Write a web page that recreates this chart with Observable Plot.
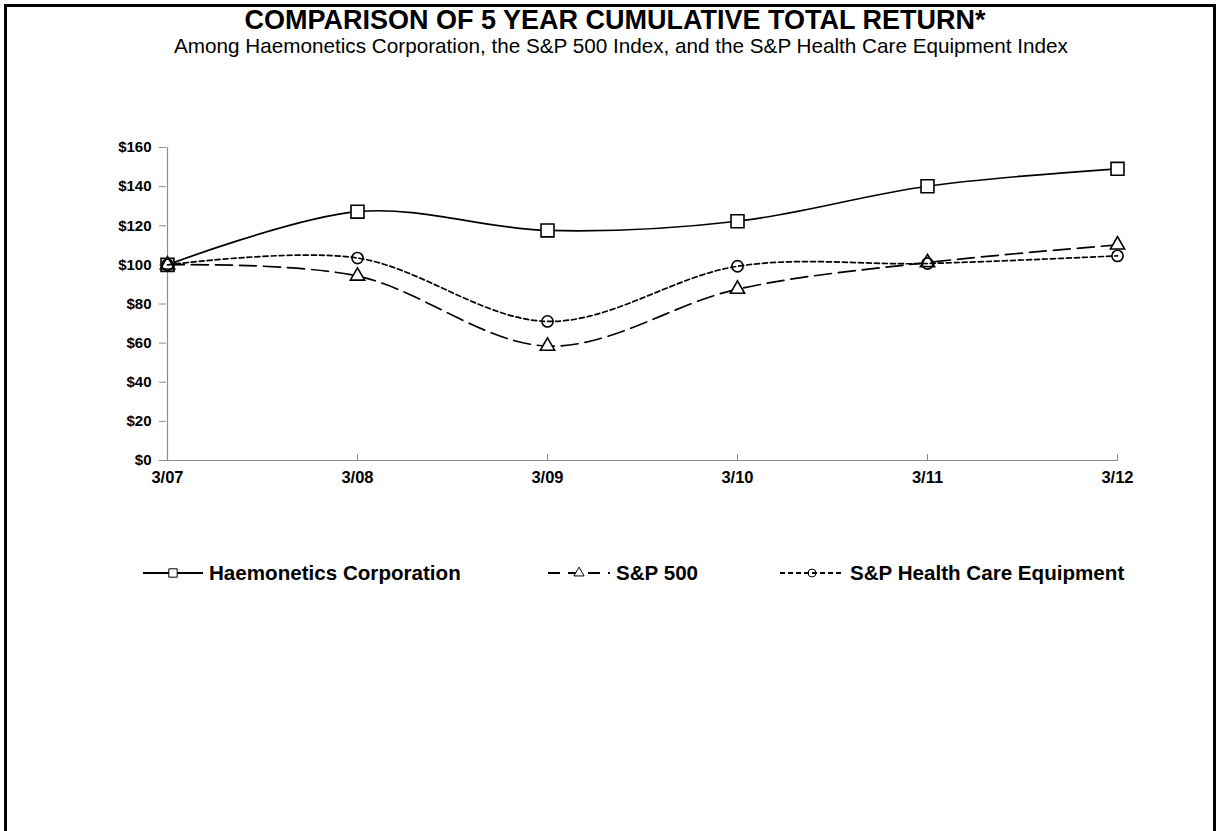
<!DOCTYPE html>
<html>
<head>
<meta charset="utf-8">
<script src="https://cdn.jsdelivr.net/npm/d3@7"></script>
<script src="https://cdn.jsdelivr.net/npm/@observablehq/plot@0.6"></script>
<style>
  html, body { margin: 0; padding: 0; background: #fff; }
  #root { position: relative; width: 1220px; height: 831px; overflow: hidden; font-family: "Liberation Sans", Arial, sans-serif; color: #000; }
  #frame { position: absolute; left: 4px; top: 4px; width: 1212px; height: 840px; border-top: 3px solid #000; border-left: 3px solid #000; border-right: 3px solid #000; box-sizing: border-box; }
  #title { position: absolute; left: 0; width: 1230px; top: 5px; text-align: center; font-size: 27px; font-weight: bold; line-height: 30px; }
  #subtitle { position: absolute; left: 0; width: 1242px; top: 35px; text-align: center; font-size: 20.7px; line-height: 22px; }
  #chart { position: absolute; left: 0; top: 110px; }
  .leg { position: absolute; top: 561px; height: 24px; display: flex; align-items: center; font-weight: bold; font-size: 20.6px; white-space: nowrap; }
  .leg svg { margin-right: 6px; }
</style>
</head>
<body>
<div id="root">
  <div id="frame"></div>
  <div id="title">COMPARISON OF 5 YEAR CUMULATIVE TOTAL RETURN*</div>
  <div id="subtitle">Among Haemonetics Corporation, the S&amp;P 500 Index, and the S&amp;P Health Care Equipment Index</div>
  <div id="chart"></div>
  <div id="legend"></div>
</div>
<script>
const periods = ["3/07", "3/08", "3/09", "3/10", "3/11", "3/12"];
const haemonetics = [100, 127.2, 117.6, 122.3, 140.2, 149.1];
const sp500 = [100, 94.3, 58.5, 87.6, 101.2, 110.2];
const spHealthCare = [100, 103.5, 71.1, 99.3, 100.7, 104.6];
const yTicks = [0, 20, 40, 60, 80, 100, 120, 140, 160];
const seriesNames = ["Haemonetics Corporation", "S&P 500", "S&P Health Care Equipment"];

const series = [
  {name: seriesNames[0], values: haemonetics, symbol: "square", r: 7.3, fill: "white", dash: null, legendLeft: 143},
  {name: seriesNames[1], values: sp500, symbol: "triangle", r: 5.3, fill: "white", dash: "17,7", legendLeft: 548},
  {name: seriesNames[2], values: spHealthCare, symbol: "circle", r: 5.6, fill: "none", dash: "5,3", legendLeft: 780}
];

const marks = [
  Plot.ruleY([0], {stroke: "#8c8c8c", strokeWidth: 1.2}),
  Plot.ruleX([periods[0]], {stroke: "#8c8c8c", strokeWidth: 1.2}),
  Plot.axisY({ticks: yTicks, tickFormat: d => "$" + d, tickSize: 7, tickPadding: 8, fontSize: 15, fontWeight: "bold", stroke: "#8c8c8c", fill: "#000", label: null}),
  Plot.axisX({ticks: periods, tickSize: -6, tickPadding: 17, fontSize: 16.5, fontWeight: "bold", stroke: "#8c8c8c", fill: "#000", label: null})
];
for (const s of series) {
  const data = periods.map((p, i) => ({period: p, value: s.values[i]}));
  marks.push(Plot.line(data, {x: "period", y: "value", curve: "cardinal", stroke: "#000", strokeWidth: 1.7, strokeDasharray: s.dash}));
  marks.push(Plot.dot(data, {x: "period", y: "value", symbol: s.symbol, r: s.r, stroke: "#000", strokeWidth: 1.6, fill: s.fill}));
}

const chart = Plot.plot({
  width: 1220,
  height: 380,
  marginLeft: 166,
  marginRight: 102,
  marginTop: 37,
  marginBottom: 30,
  style: {fontFamily: "'Liberation Sans', Arial, sans-serif", background: "transparent", overflow: "visible"},
  x: {type: "point", domain: periods, padding: 0, axis: null, label: null},
  y: {domain: [0, 160], axis: null, label: null},
  marks
});
document.getElementById("chart").appendChild(chart);

// Legend
const legend = document.getElementById("legend");
const symbolGen = {square: d3.symbolSquare, triangle: d3.symbolTriangle, circle: d3.symbolCircle};
const legSizes = {square: 70, triangle: 45, circle: 50};
series.forEach(s => {
  const item = document.createElement("div");
  item.className = "leg";
  item.style.left = s.legendLeft + "px";
  const w = s.name === seriesNames[0] ? 60 : (s.name === seriesNames[1] ? 62 : 64);
  const svg = d3.create("svg").attr("width", w).attr("height", 20);
  svg.append("line").attr("x1", 0).attr("x2", w).attr("y1", 10).attr("y2", 10)
    .attr("stroke", "#000").attr("stroke-width", 1.8).attr("stroke-dasharray", s.dash ? (s.symbol === "triangle" ? "12,8" : "5,3") : null);
  svg.append("path").attr("d", d3.symbol(symbolGen[s.symbol], legSizes[s.symbol])())
    .attr("transform", `translate(${w / 2},10)`).attr("fill", s.symbol === "circle" ? "none" : "white").attr("stroke", "#000").attr("stroke-width", 1);
  item.appendChild(svg.node());
  const span = document.createElement("span");
  span.textContent = s.name;
  item.appendChild(span);
  legend.appendChild(item);
});
</script>
</body>
</html>
